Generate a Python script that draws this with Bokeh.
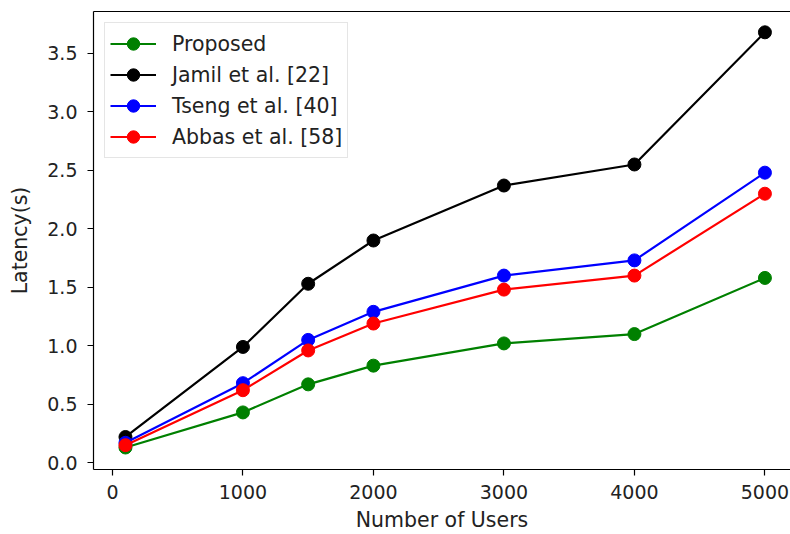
from bokeh.plotting import figure
from bokeh.models import Range1d, FixedTicker, NumeralTickFormatter, LinearAxis
from bokeh.embed import file_html
from bokeh.resources import INLINE

users = [100, 1000, 1500, 2000, 3000, 4000, 5000]
proposed = [0.13, 0.43, 0.67, 0.83, 1.02, 1.10, 1.58]
jamil = [0.22, 0.99, 1.53, 1.90, 2.37, 2.55, 3.68]
tseng = [0.17, 0.68, 1.05, 1.29, 1.60, 1.73, 2.48]
abbas = [0.15, 0.62, 0.96, 1.19, 1.48, 1.60, 2.30]

series = [
    ("Proposed", proposed, "#008000"),
    ("Jamil et al. [22]", jamil, "#000000"),
    ("Tseng et al. [40]", tseng, "#0000ff"),
    ("Abbas et al. [58]", abbas, "#ff0000"),
]

x_ticks = [0, 1000, 2000, 3000, 4000, 5000]
y_ticks = [0.0, 0.5, 1.0, 1.5, 2.0, 2.5, 3.0, 3.5]

FONT = "DejaVu Sans"

p = figure(width=790, height=534, output_backend="svg", toolbar_location=None,
           x_range=Range1d(-145, 5196), y_range=Range1d(-0.058, 3.858),
           min_border_left=93, min_border_top=11, min_border_right=0, min_border_bottom=64)
p.background_fill_color = "white"
p.border_fill_color = "white"
p.outline_line_color = None
p.xgrid.visible = False
p.ygrid.visible = False

for name, vals, col in series:
    p.line(users, vals, line_color=col, line_width=2.2, legend_label=name)
    p.scatter(users, vals, size=13, fill_color=col, line_color=col, legend_label=name)

xa = p.xaxis[0]
xa.ticker = FixedTicker(ticks=x_ticks)
xa.formatter = NumeralTickFormatter(format="0")
xa.axis_label = "Number of Users"
ya = p.yaxis[0]
ya.ticker = FixedTicker(ticks=y_ticks)
ya.formatter = NumeralTickFormatter(format="0.0")
ya.axis_label = "Latency(s)"

for ax in (xa, ya):
    ax.axis_line_color = "black"
    ax.axis_line_width = 1.2
    ax.major_tick_line_color = "black"
    ax.major_tick_line_width = 1.2
    ax.major_tick_out = 6
    ax.major_tick_in = 0
    ax.minor_tick_line_color = None
    ax.major_label_text_font = FONT
    ax.major_label_text_font_size = "19px"
    ax.major_label_text_color = "#222222"
    ax.axis_label_text_font = FONT
    ax.axis_label_text_font_size = "20.5px"
    ax.axis_label_text_font_style = "normal"
    ax.axis_label_text_color = "#222222"

xa.major_label_standoff = 9
xa.axis_label_standoff = 6
ya.major_label_standoff = 10
ya.axis_label_standoff = 12

top = LinearAxis(ticker=FixedTicker(ticks=[]), axis_line_color="black", axis_line_width=1.2,
                 major_tick_line_color=None, minor_tick_line_color=None,
                 major_tick_out=0, minor_tick_out=0)
p.add_layout(top, "above")

lg = p.legend[0]
lg.location = "top_left"
lg.margin = 11
lg.padding = 5
lg.spacing = 0
lg.glyph_width = 46
lg.glyph_height = 31
lg.label_height = 31
lg.label_standoff = 16
lg.label_text_font = FONT
lg.label_text_font_size = "20.5px"
lg.label_text_color = "#222222"
lg.border_line_color = "#cccccc"
lg.border_line_width = 1
lg.background_fill_alpha = 0.8

open("out.html", "w").write(file_html(p, INLINE))
